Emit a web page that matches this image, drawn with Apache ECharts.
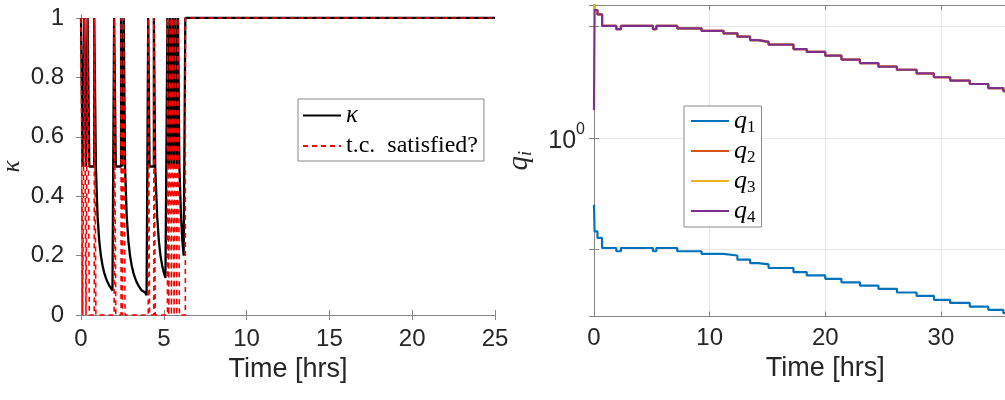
<!DOCTYPE html>
<html>
<head>
<meta charset="utf-8">
<script src="https://cdn.jsdelivr.net/npm/echarts@6/dist/echarts.min.js"></script>
<style>html,body{margin:0;padding:0;background:#fff}#c{width:1005px;height:400px}</style>
</head>
<body>
<div id="c"></div>
<script>
// ---------- Left panel data (kappa & test-condition flag) ----------
const kappaTime = [
  0,0.1,0.2,0.3,0.4,0.5,
  0.8,0.9,
  1.00,1.10,1.20,1.30,1.40,1.50,1.60,1.70,1.80,1.90,
  2.00,2.10,2.42,2.50,2.58,2.66,
  2.76,2.86,2.96,3.06,3.16,3.26,3.36,3.46,3.56,3.66,3.76,3.86,3.96,
  4.06,4.14,4.40,4.48,
  4.60,4.70,4.80,4.90,5.00,5.10,
  5.22,5.30,5.38,5.46,5.54,5.62,5.70,5.78,5.86,5.94,
  6.04,6.12,6.20,6.30,25];
const kappaValue = [
  1,0.5,1,0.5,1,0.5,
  1,0.5,
  0.333,0.25,0.2,0.167,0.143,0.125,0.111,0.1,0.091,0.083,
  1,0.5,1,0.5,1,0.5,
  0.333,0.25,0.2,0.167,0.143,0.125,0.111,0.1,0.091,0.083,0.077,0.071,0.067,
  1,0.5,1,0.5,
  0.333,0.25,0.2,0.167,0.143,0.125,
  1,0.5,1,0.5,1,0.5,1,0.5,1,0.5,
  0.333,0.25,0.2,1,1];
const tcTime = [
  0,0.1,0.2,0.3,0.4,0.5,
  0.8,0.9,
  2.00,2.10,2.42,2.50,2.58,2.66,
  4.06,4.14,4.40,4.48,
  5.22,5.30,5.38,5.46,5.54,5.62,5.70,5.78,5.86,5.94,
  6.30,25];
const tcValue = [
  1,0,1,0,1,0,
  1,0,
  1,0,1,0,1,0,
  1,0,1,0,
  1,0,1,0,1,0,1,0,1,0,
  1,1];
const leftXTicks = [0,5,10,15,20,25];
const leftYTicks = [0,0.2,0.4,0.6,0.8,1];

// ---------- Right panel data (q_i, log scale) ----------
const qTime = [0,0.05,0.3,0.7,1.93,2.33,5.1,5.39,7.2,9.3,11.2,12.4,13.5,14.2,15.1,17.25,18.4,20.0,
  21.4,23.0,24.6,26.2,27.9,29.4,30.8,32.5,34.1,35.4,37];
const q1Value = [0.66,0.559,0.537,0.504,0.494,0.504,0.494,0.504,0.494,0.486,0.481,0.469,0.459,0.455,
  0.445,0.434,0.425,0.416,0.407,0.399,0.391,0.382,0.374,0.365,0.358,0.350,0.343,0.336,0.336];
const q2Value = [2.4,2.22,2.16,2.01,1.97,2.01,1.97,2.01,1.98,1.95,1.92,1.88,1.84,1.82,
  1.79,1.74,1.71,1.67,1.63,1.595,1.56,1.53,1.495,1.46,1.43,1.40,1.365,1.34,1.34];
const q3Value = [2.4,2.22,2.16,2.01,1.97,2.01,1.97,2.01,1.98,1.95,1.92,1.88,1.84,1.82,
  1.79,1.74,1.71,1.67,1.63,1.595,1.56,1.53,1.495,1.46,1.43,1.40,1.365,1.34,1.34];
const q4Value = [1.19,2.22,2.16,2.01,1.97,2.01,1.97,2.01,1.98,1.95,1.92,1.88,1.84,1.82,
  1.79,1.74,1.71,1.67,1.63,1.595,1.56,1.53,1.495,1.46,1.43,1.40,1.365,1.34,1.34];
const rightXTicks = [0,10,20,30,40];
const rightYLabelValues = [1];

const seriesNames = ['q1','q2','q3','q4'];
const seriesColors = ['#0072BD','#D95319','#EDB120','#7E2F8E'];

function pairs(t, v){ return t.map((x,i)=>[x, v[i]]); }

const AX = '#858585';
const TXT = '#262626';
const SANS = "'Liberation Sans', Arial, Helvetica, sans-serif";
const SERIF = "'Liberation Serif', 'DejaVu Serif', serif";

const chart = echarts.init(document.getElementById('c'), null, {renderer:'canvas'});

const baseAxisLine = {show:true, lineStyle:{color:AX, width:1}};
const tickIn = {show:true, inside:true, length:5, lineStyle:{color:AX}};

const option = {
  animation:false,
  backgroundColor:'#fff',
  grid:[
    {left:81, top:15, width:414, height:303, outerBoundsMode:'none', containLabel:false},
    {left:594, top:5, width:462.5, height:311.5, outerBoundsMode:'none', containLabel:false}
  ],
  xAxis:[
    {gridIndex:0, type:'value', position:'bottom', min:leftXTicks[0], max:leftXTicks[leftXTicks.length-1], interval:5,
     axisLine:baseAxisLine, axisTick:tickIn, splitLine:{show:false},
     axisLabel:{color:TXT, fontFamily:SANS, fontSize:24, margin:9, customValues:leftXTicks},
     name:'Time [hrs]', nameLocation:'middle', nameGap:28,
     nameTextStyle:{color:TXT, fontFamily:SANS, fontSize:27}},
    {gridIndex:0, type:'value', position:'top', min:0, max:25, interval:5,
     axisLine:baseAxisLine, axisTick:tickIn, axisLabel:{show:false}, splitLine:{show:false}},
    {gridIndex:1, type:'value', position:'bottom', min:0, max:40, interval:10,
     axisLine:baseAxisLine, axisTick:tickIn,
     splitLine:{show:true, lineStyle:{color:'#e8e8e8', width:1}},
     axisLabel:{color:TXT, fontFamily:SANS, fontSize:24, margin:10, customValues:rightXTicks},
     name:'Time [hrs]', nameLocation:'middle', nameGap:29,
     nameTextStyle:{color:TXT, fontFamily:SANS, fontSize:27}},
    {gridIndex:1, type:'value', position:'top', min:0, max:40, interval:10,
     axisLine:baseAxisLine, axisTick:tickIn, axisLabel:{show:false}, splitLine:{show:false}}
  ],
  yAxis:[
    {gridIndex:0, type:'value', position:'left', min:-0.01, max:1.01,
     axisLine:baseAxisLine,
     axisTick:{show:true, inside:true, length:5, lineStyle:{color:AX}, customValues:leftYTicks},
     splitLine:{show:false},
     axisLabel:{color:TXT, fontFamily:SANS, fontSize:24, margin:17, customValues:leftYTicks},
     name:'κ', nameLocation:'middle', nameGap:56, nameRotate:90,
     nameTextStyle:{color:TXT, fontFamily:SERIF, fontStyle:'italic', fontSize:25}},
    {gridIndex:0, type:'value', position:'right', min:-0.01, max:1.01,
     axisLine:baseAxisLine,
     axisTick:{show:true, inside:true, length:5, lineStyle:{color:AX}, customValues:leftYTicks},
     axisLabel:{show:false}, splitLine:{show:false}},
    {gridIndex:1, type:'log', logBase:2, position:'left', min:0.329, max:2.29,
     axisLine:baseAxisLine, axisTick:tickIn,
     splitLine:{show:true, lineStyle:{color:'#e8e8e8', width:1}},
     axisLabel:{margin:9, formatter:function(v){
        return rightYLabelValues.some(x=>Math.abs(x-v)<1e-9) ? '{b|10}{p|0}' : '';
     }, rich:{
        b:{color:TXT, fontFamily:SANS, fontSize:25, lineHeight:32, verticalAlign:'bottom'},
        p:{color:TXT, fontFamily:SANS, fontSize:16, lineHeight:32, verticalAlign:'top', padding:[0,0,8,0]}
     }},
     name:'{q|q}{i|i}', nameLocation:'middle', nameGap:59, nameRotate:90,
     nameTextStyle:{rich:{
        q:{color:TXT, fontFamily:SERIF, fontStyle:'italic', fontSize:29, lineHeight:32},
        i:{color:TXT, fontFamily:SERIF, fontStyle:'italic', fontSize:18, lineHeight:32, verticalAlign:'bottom', padding:[8,0,0,0]}
     }}},
    {gridIndex:1, type:'log', logBase:2, position:'right', min:0.329, max:2.29,
     axisLine:baseAxisLine, axisTick:tickIn, axisLabel:{show:false}, splitLine:{show:false}}
  ],
  legend:[
    {left:298, top:99, orient:'vertical', itemWidth:38, itemHeight:12, itemGap:6, padding:[4,6,3,4],
     backgroundColor:'#fff', borderColor:'#8a8a8a', borderWidth:1,
     itemStyle:{opacity:0},
     data:['kappa','tc'],
     formatter:function(n){ return n==='kappa' ? '{k|κ}' : '{t|t.c.  satisfied?}'; },
     textStyle:{rich:{
        k:{color:'#000', fontFamily:SERIF, fontStyle:'italic', fontSize:25, lineHeight:29},
        t:{color:'#000', fontFamily:SERIF, fontSize:24, lineHeight:29}
     }}},
    {left:684, top:106, orient:'vertical', itemWidth:38, itemHeight:12, itemGap:2, padding:[2,6,1,6],
     backgroundColor:'#fff', borderColor:'#8a8a8a', borderWidth:1,
     itemStyle:{opacity:0},
     data:seriesNames,
     formatter:function(n){ return '{q|q}{s|' + n.slice(1) + '}'; },
     textStyle:{rich:{
        q:{color:'#000', fontFamily:SERIF, fontStyle:'italic', fontSize:26, lineHeight:30},
        s:{color:'#000', fontFamily:SERIF, fontSize:17, lineHeight:30, verticalAlign:'bottom', padding:[6,0,0,0]}
     }}}
  ],
  series:[
    {name:'kappa', type:'line', xAxisIndex:0, yAxisIndex:0, step:'end', symbol:'none',
     data:pairs(kappaTime, kappaValue), lineStyle:{color:'#000', width:2.3}, itemStyle:{color:'#000'}},
    {name:'tc', type:'line', xAxisIndex:0, yAxisIndex:0, step:'end', symbol:'none',
     data:pairs(tcTime, tcValue), lineStyle:{color:'#ff0000', width:1.6, type:[5,4]}, itemStyle:{color:'#ff0000'}},
    {name:'q1', type:'line', xAxisIndex:2, yAxisIndex:2, step:'end', symbol:'none',
     data:pairs(qTime, q1Value), lineStyle:{color:seriesColors[0], width:2.2}, itemStyle:{color:seriesColors[0]}},
    {name:'q2', type:'line', xAxisIndex:2, yAxisIndex:2, step:'end', symbol:'none',
     data:pairs(qTime, q2Value), lineStyle:{color:seriesColors[1], width:2.2}, itemStyle:{color:seriesColors[1]}},
    {name:'q3', type:'line', xAxisIndex:2, yAxisIndex:2, step:'end', symbol:'none',
     data:pairs(qTime, q3Value), lineStyle:{color:seriesColors[2], width:2.2}, itemStyle:{color:seriesColors[2]}},
    {name:'q4', type:'line', xAxisIndex:2, yAxisIndex:2, step:'end', symbol:'none',
     data:pairs(qTime, q4Value), lineStyle:{color:seriesColors[3], width:2.2}, itemStyle:{color:seriesColors[3]}}
  ]
};
chart.setOption(option);
</script>
</body>
</html>
